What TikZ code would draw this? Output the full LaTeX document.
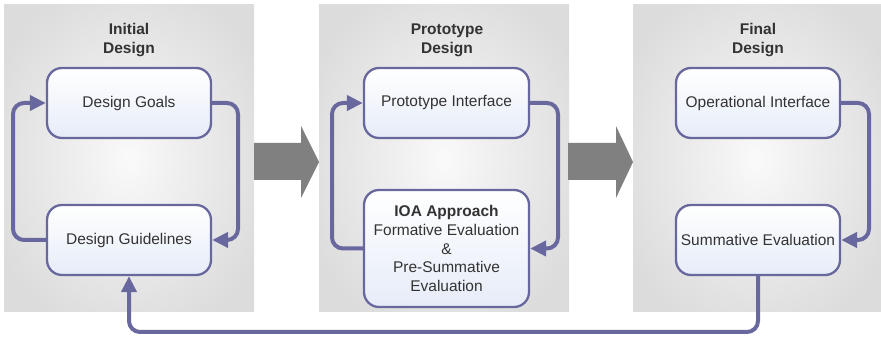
\documentclass[tikz,border=0pt]{standalone}
\usepackage{fontspec}
\setmainfont{Liberation Sans}
\usetikzlibrary{arrows.meta,shadings}
\definecolor{lineblue}{RGB}{104,104,158}
\definecolor{boxbot}{RGB}{230,236,248}
\definecolor{txt}{RGB}{51,51,51}
\definecolor{pedge}{RGB}{220,220,220}
\definecolor{pcen}{RGB}{250,250,250}
\definecolor{garrow}{RGB}{128,128,128}
\pgfdeclareradialshading{panelshade}{\pgfpoint{0bp}{0bp}}{color(0bp)=(pcen); color(8bp)=(pcen!70!pedge); color(30bp)=(pedge); color(50bp)=(pedge)}
\begin{document}
\begin{tikzpicture}[x=1pt,y=1pt,
  panel/.style={shading=panelshade},
  stage/.style={draw=lineblue, line width=2.3pt, rounded corners=15pt,
    top color=white, bottom color=boxbot, text=txt, align=center,
    font=\fontsize{15.5}{18.7}\selectfont, inner sep=0pt},
  title/.style={text=txt, align=center, font=\fontsize{15.5}{19}\selectfont\bfseries},
  conn/.style={draw=lineblue, line width=4pt, rounded corners=11pt,
    -{Triangle[length=16pt,width=15pt]}},
  bigarrow/.style={fill=garrow, draw=none}]
\useasboundingbox (0,0) rectangle (881,337);
% panels
\shade[panel] (4,25) rectangle (254,332);
\shade[panel] (319,25) rectangle (569,332);
\shade[panel] (633,25) rectangle (881,332);
% big gray arrows
\fill[bigarrow] (254,194) -- (301,194) -- (301,211) -- (319,175) -- (301,139) -- (301,157) -- (254,157) -- cycle;
\fill[bigarrow] (568,194) -- (616,194) -- (616,211) -- (633,175) -- (616,139) -- (616,157) -- (568,157) -- cycle;
% titles
\node[title] (t1) at (129,296.5) {Initial\\Design};
\node[title] (t2) at (447,296.5) {Prototype\\Design};
\node[title] (t3) at (758,296.5) {Final\\Design};
% connector bend points
\coordinate (c1) at (238,234);
\coordinate (c2) at (13,97);
\coordinate (c3) at (558,234);
\coordinate (c4) at (332,88.5);
\coordinate (c5) at (869,234);
\coordinate (c6) at (758,5);
% boxes
\node[stage, minimum width=164pt, minimum height=70pt] (goals) at (129,234) {Design Goals};
\node[stage, minimum width=164pt, minimum height=70pt] (guide) at (129,97) {Design Guidelines};
\node[stage, minimum width=165pt, minimum height=70pt] (proto) at (446.5,234) {Prototype Interface};
\node[stage, minimum width=165pt, minimum height=117pt] (ioa) at (446.5,88.5) {\textbf{IOA Approach}\\Formative Evaluation\\\&\\Pre-Summative\\Evaluation};
\node[stage, minimum width=164pt, minimum height=70pt] (oper) at (758,234) {Operational Interface};
\node[stage, minimum width=164pt, minimum height=70pt] (summ) at (758,97) {Summative Evaluation};
% loops
\draw[conn] (goals.east) -- (c1) |- (guide.east);
\draw[conn] (guide.west) -- (c2) |- (goals.west);
\draw[conn] (proto.east) -- (c3) |- (ioa.east);
\draw[conn] (ioa.west) -- (c4) |- (proto.west);
\draw[conn] (oper.east) -- (c5) |- (summ.east);
\draw[conn] (summ.south) -- (c6) -| (guide.south);
\end{tikzpicture}
\end{document}
